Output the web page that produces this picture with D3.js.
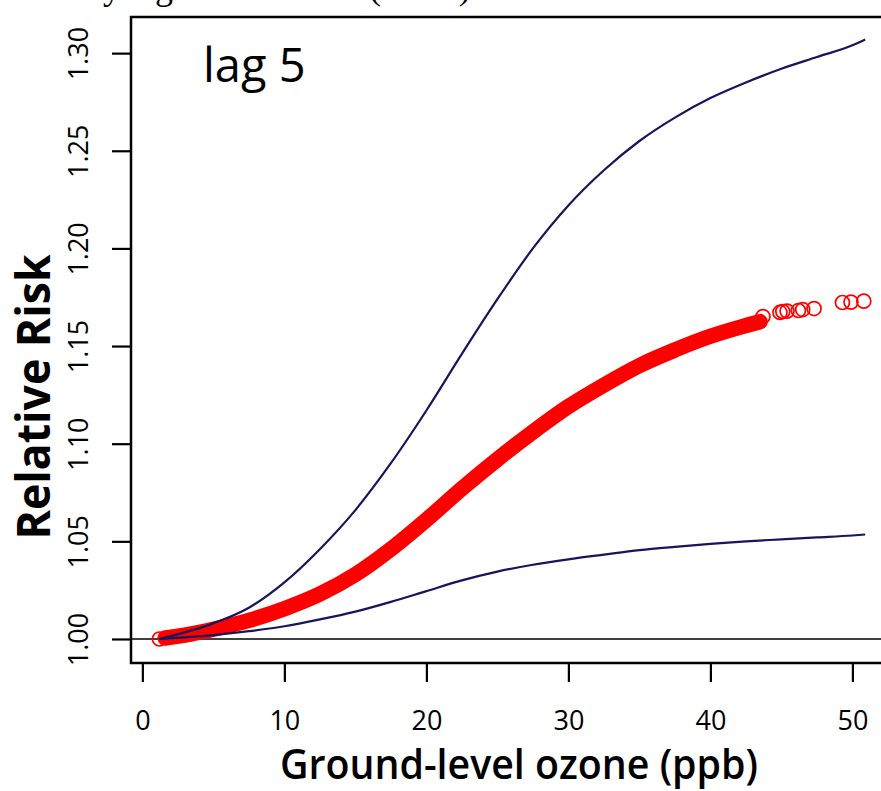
<!DOCTYPE html>
<html>
<head>
<meta charset="utf-8">
<script src="https://cdn.jsdelivr.net/npm/d3@7"></script>
<style>
	body { margin: 0; background: #fff; }
	svg { display: block; }
	text { font-family: "Open Sans", sans-serif; fill: #000; }
</style>
</head>
<body>
<svg id="chart" width="881" height="791"></svg>
<script>
// ticks
const xTicks = [0, 10, 20, 30, 40, 50];
const yTicks = [1.00, 1.05, 1.10, 1.15, 1.20, 1.25, 1.30];

// fitted relative risk (ozone ppb, RR)
const fitCurve = [
	[1.6, 1.0005], [3, 1.002], [5, 1.005], [7.5, 1.0095], [10, 1.0155],
	[12.5, 1.023], [15, 1.033], [17.5, 1.046], [20, 1.061], [22.5, 1.077],
	[25, 1.092], [27.5, 1.106], [30, 1.119], [32.5, 1.130], [35, 1.140],
	[37.5, 1.148], [40, 1.155], [42.5, 1.1605], [43.5, 1.1625]
];

// first and last (sparse) observations
const startPoints = [[1.2, 1.000]];
const tailPoints = [
	[43.7, 1.1651], [44.9, 1.1672], [45.1, 1.1677], [45.4, 1.1679], [46.2, 1.1682],
	[46.5, 1.1687], [47.3, 1.1692], [49.3, 1.1723], [49.9, 1.1725], [50.8, 1.1730]
];

// confidence band
const upperCI = [
	[1.2, 1.000], [5, 1.008], [7.5, 1.016], [10, 1.029], [12.5, 1.046],
	[15, 1.066], [17.5, 1.090], [20, 1.117], [22.5, 1.146], [25, 1.174],
	[27.5, 1.200], [30, 1.222], [32.5, 1.240], [35, 1.255], [37.5, 1.267],
	[40, 1.277], [42.5, 1.285], [45, 1.292], [47.5, 1.298], [50, 1.304], [50.9, 1.307]
];
const lowerCI = [
	[1.2, 1.000], [5, 1.002], [7.5, 1.004], [10, 1.0065], [12.5, 1.010],
	[15, 1.014], [17.5, 1.019], [20, 1.0245], [22.5, 1.030], [25, 1.0345],
	[27.5, 1.038], [30, 1.0408], [32.5, 1.0432], [35, 1.0455], [37.5, 1.0472],
	[40, 1.0487], [42.5, 1.050], [45, 1.051], [47.5, 1.052], [50, 1.053], [50.9, 1.0535]
];

const captionText = "relative risk estimated by a general model (mean)";

// plot window (R style, padded)
const xLim = [-0.8, 53.0];
const yLim = [0.9877, 1.3185];
const box = { left: 131, top: 17, right: 895, bottom: 663 };

const svg = d3.select('#chart');

const x = d3.scaleLinear().domain(xLim).range([box.left, box.right]);
const y = d3.scaleLinear().domain(yLim).range([box.bottom, box.top]);

const line = d3.line()
	.x(d => x(d[0]))
	.y(d => y(d[1]))
	.curve(d3.curveMonotoneX);

// caption cut off at the top, only descenders show
const cap = svg.append('text')
	.attr('x', 0)
	.attr('y', -1)
	.style('font-family', '"Liberation Serif", serif')
	.style('font-size', '36px')
	.text(captionText);
const yPos = cap.node().getStartPositionOfChar(captionText.indexOf('by') + 1).x;
cap.attr('x', 103 - yPos);

// reference line at RR = 1
svg.append('line')
	.attr('x1', box.left)
	.attr('x2', box.right)
	.attr('y1', y(1))
	.attr('y2', y(1))
	.attr('stroke', '#000')
	.attr('stroke-width', 1.6);

// points (dense part is a solid band of overlapping circles)
svg.append('path')
	.datum(fitCurve)
	.attr('d', line)
	.attr('fill', 'none')
	.attr('stroke', '#ff0000')
	.attr('stroke-width', 15.5)
	.attr('stroke-linecap', 'round');

svg.selectAll('.pt')
	.data(startPoints.concat(tailPoints))
	.join('circle')
		.attr('class', 'pt')
		.attr('cx', d => x(d[0]))
		.attr('cy', d => y(d[1]))
		.attr('r', 7)
		.attr('fill', 'none')
		.attr('stroke', '#ff0000')
		.attr('stroke-width', 1.7);

// confidence limits
[upperCI, lowerCI].forEach(ci => {
	svg.append('path')
		.datum(ci)
		.attr('d', line)
		.attr('fill', 'none')
		.attr('stroke', '#16165c')
		.attr('stroke-width', 2.2);
});

// Axes
const xAxis = svg.append('g')
	.attr('transform', `translate(0, ${box.bottom})`)
	.call(d3.axisBottom(x).tickValues(xTicks).tickSize(19).tickSizeOuter(0));
xAxis.select('.domain').remove();
xAxis.selectAll('line').attr('stroke', '#000').attr('stroke-width', 2.2);
xAxis.selectAll('text')
	.attr('y', 67)
	.attr('dy', 0)
	.style('font-size', '27px')
	.text(d => d);

const yAxis = svg.append('g')
	.attr('transform', `translate(${box.left}, 0)`)
	.call(d3.axisLeft(y).tickValues(yTicks).tickSize(19).tickSizeOuter(0));
yAxis.select('.domain').remove();
yAxis.selectAll('line').attr('stroke', '#000').attr('stroke-width', 2.2);
yAxis.selectAll('text')
	.attr('x', 0)
	.attr('y', -43)
	.attr('dy', 0)
	.attr('transform', 'rotate(-90)')
	.attr('text-anchor', 'middle')
	.style('font-size', '27px')
	.text(d => d3.format('.2f')(d));

// box
svg.append('rect')
	.attr('x', box.left)
	.attr('y', box.top)
	.attr('width', box.right - box.left)
	.attr('height', box.bottom - box.top)
	.attr('fill', 'none')
	.attr('stroke', '#000')
	.attr('stroke-width', 2.5);

// labels
svg.append('text')
	.attr('x', 203)
	.attr('y', 82)
	.style('font-size', '47px')
	.text('lag 5');

svg.append('text')
	.attr('transform', 'translate(50, 397) rotate(-90)')
	.attr('text-anchor', 'middle')
	.attr('textLength', 285)
	.attr('lengthAdjust', 'spacingAndGlyphs')
	.style('font-size', '47px')
	.style('font-weight', 700)
	.text('Relative Risk');

svg.append('text')
	.attr('x', 519)
	.attr('y', 779)
	.attr('text-anchor', 'middle')
	.attr('textLength', 478)
	.attr('lengthAdjust', 'spacingAndGlyphs')
	.style('font-size', '42px')
	.style('font-weight', 600)
	.text('Ground-level ozone (ppb)');
</script>
</body>
</html>
